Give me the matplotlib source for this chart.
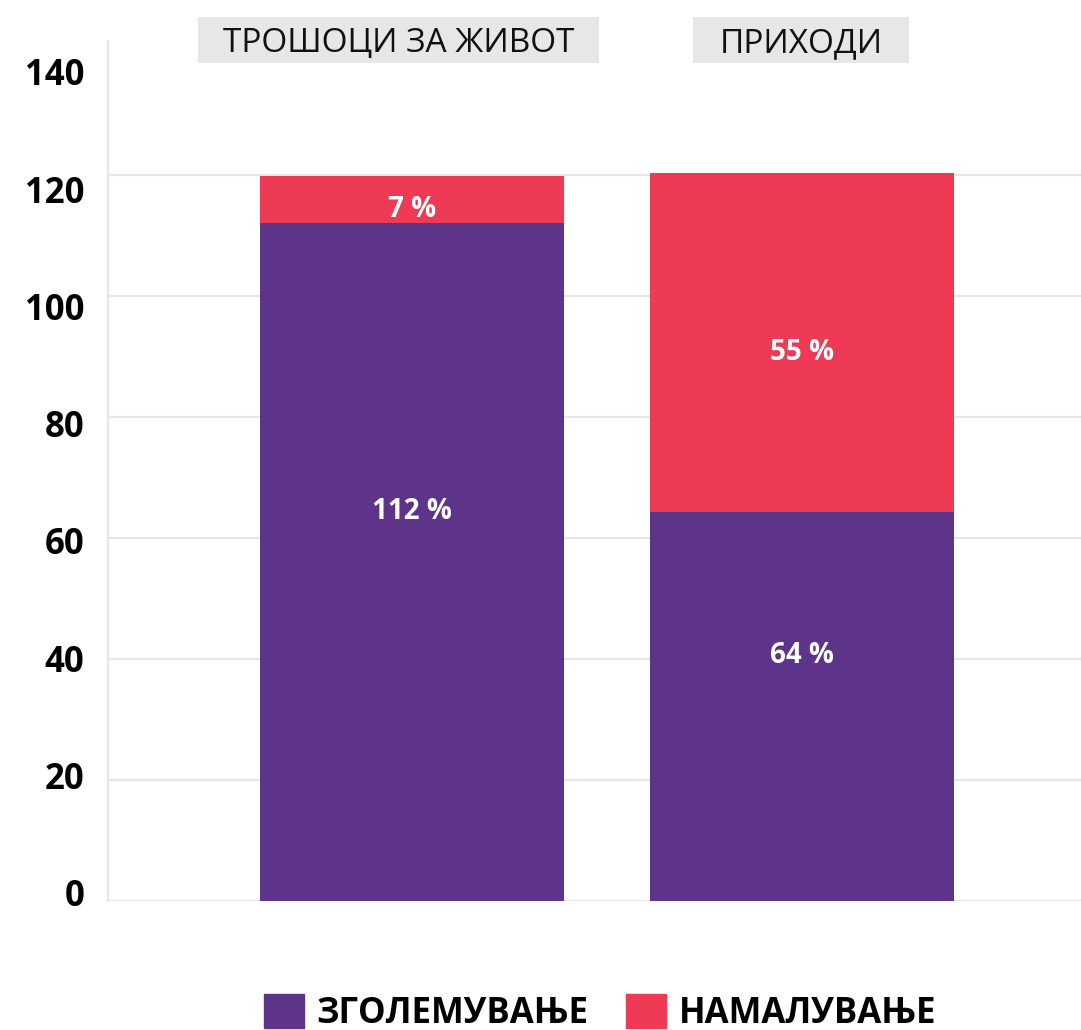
import matplotlib
matplotlib.use('Agg')
import numpy as np
import matplotlib.pyplot as plt
from matplotlib.patches import Patch, Rectangle

plt.rcParams['font.family'] = ['Open Sans', 'DejaVu Sans']

categories = ['ТРОШОЦИ ЗА ЖИВОТ', 'ПРИХОДИ']
increase = [112.1, 64.3]
decrease = [7.8, 56.1]
increase_labels = ['112 %', '64 %']
decrease_labels = ['7 %', '55 %']
series_names = ['ЗГОЛЕМУВАЊЕ', 'НАМАЛУВАЊЕ']
yticks = [0, 20, 40, 60, 80, 100, 120, 140]

purple = '#5E348A'
red = '#EE3A55'
grid = '#E6E6E6'

W, H = 1081, 1030
fig = plt.figure(figsize=(W / 100, H / 100), dpi=100)
ax = fig.add_axes([108 / W, 129.3 / H, 1 - 108 / W, 859.7 / H])

x = np.arange(len(categories))
w = 0.78
ax.bar(x, increase, width=w, color=purple, zorder=3)
ax.bar(x, decrease, width=w, bottom=increase, color=red, zorder=3)

for i in range(len(x)):
    ax.text(x[i], increase[i] / 2 + 8.4, increase_labels[i], ha='center', va='center',
            color='white', fontsize=20, fontweight='bold', zorder=4)
    ax.text(x[i], increase[i] + decrease[i] / 2 - 1.6, decrease_labels[i], ha='center',
            va='center', color='white', fontsize=20, fontweight='bold', zorder=4)

ax.set_xlim(-0.78, 1.715)
ax.set_ylim(0, 142.2)
# labels in the original sit on a slightly tighter scale than the gridlines
ax.set_yticks([1.32 + 0.9697 * t for t in yticks])
ax.set_yticklabels([str(t) for t in yticks], fontsize=25, fontweight='bold')
ax.set_xticks([])
ax.tick_params(axis='y', length=0, pad=17)
for t in yticks[:-1]:
    ax.axhline(t, color=grid, lw=1.5, zorder=1)
for s in ['top', 'right', 'bottom']:
    ax.spines[s].set_visible(False)
ax.spines['left'].set_color(grid)
ax.spines['left'].set_linewidth(1.5)

# category headers in grey boxes above the bars
box_x = [198, 693]
box_w = [401, 216]
for i, c in enumerate(categories):
    fig.add_artist(Rectangle((box_x[i] / W, (H - 63) / H), box_w[i] / W, 46 / H,
                             transform=fig.transFigure, facecolor='#E6E7E8',
                             edgecolor='none'))
    fig.text((box_x[i] + box_w[i] / 2) / W, (H - 52) / H, c, ha='center', va='baseline',
             fontsize=24, color='#111111')

handles = [Patch(color=purple), Patch(color=red)]
fig.legend(handles, series_names, loc='lower center', bbox_to_anchor=(0.555, -0.032),
           ncol=2, frameon=False, prop={'size': 25, 'weight': 'bold'},
           handlelength=1.15, handleheight=1.15, handletextpad=0.35, columnspacing=1.1)

fig.savefig('out.png', dpi=100)
